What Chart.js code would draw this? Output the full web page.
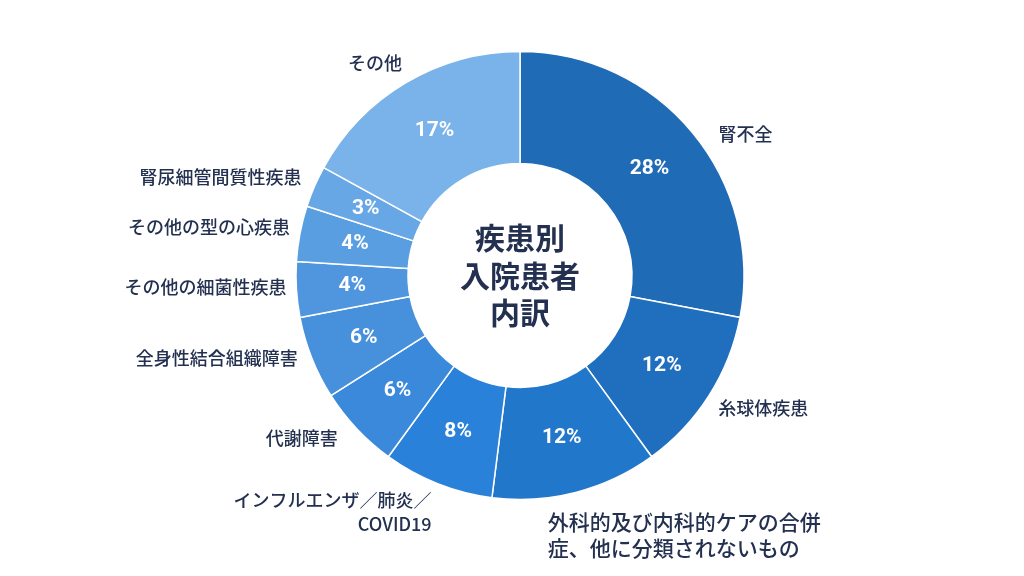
<!DOCTYPE html>
<html><head><meta charset="utf-8">
<script src="https://cdn.jsdelivr.net/npm/chart.js@4"></script>
<style>html,body{margin:0;padding:0;background:#fff;}#wrap{width:1024px;height:576px;position:relative;}</style>
</head><body><div id="wrap"><canvas id="c" width="1024" height="576"></canvas></div>
<script>
const categories = [
  ["腎不全"],
  ["糸球体疾患"],
  ["外科的及び内科的ケアの合併", "症、他に分類されないもの"],
  ["インフルエンザ／肺炎／", "COVID19"],
  ["代謝障害"],
  ["全身性結合組織障害"],
  ["その他の細菌性疾患"],
  ["その他の型の心疾患"],
  ["腎尿細管間質性疾患"],
  ["その他"]
];
const values = [28, 12, 12, 8, 6, 6, 4, 4, 3, 17];
const centerTitle = ["疾患別", "入院患者", "内訳"];
const colors = ["#1f6bb6", "#206fbf", "#2177ca", "#2a81d9", "#3a89db", "#4690dc", "#4f96de", "#5a9ee2", "#68a7e5", "#7ab3e9"];
// label placement relative to each slice's outer mid point: [dx, dy, align, fontSize]
const labelLayout = [
  [26, 1, "left", 18],
  [9, 13, "left", 18],
  [-28, 30, "left", 21],
  [-6, 16, "right", 18],
  [-19, 9, "right", 18],
  [-14, 0, "right", 18],
  [-10, -2, "right", 18],
  [-10, -6, "right", 18],
  [-13, -9, "right", 18],
  [-4, -20, "right", 18]
];

const textColor = "#233050";
const jp = '"Noto Sans CJK JP", "Noto Sans", sans-serif';

const labelPlugin = {
  id: "labels",
  afterDatasetsDraw(chart) {
    const ctx = chart.ctx;
    const meta = chart.getDatasetMeta(0);
    ctx.save();
    meta.data.forEach((arc, i) => {
      const p = arc.getProps(["x", "y", "startAngle", "endAngle", "innerRadius", "outerRadius"], true);
      const mid = (p.startAngle + p.endAngle) / 2;
      const rm = (p.innerRadius + p.outerRadius) / 2;
      // percent
      ctx.fillStyle = "#ffffff";
      ctx.font = 'bold 21px Roboto, "Liberation Sans", sans-serif';
      ctx.textAlign = "center";
      ctx.textBaseline = "middle";
      ctx.fillText(values[i] + "%", p.x + Math.cos(mid) * rm, p.y + Math.sin(mid) * rm);
      // category label
      const [dx, dy, align, fs] = labelLayout[i];
      const ax = p.x + Math.cos(mid) * p.outerRadius + dx;
      const ay = p.y + Math.sin(mid) * p.outerRadius + dy;
      ctx.fillStyle = textColor;
      ctx.font = '500 ' + fs + 'px ' + jp;
      ctx.textAlign = align;
      const lh = fs === 21 ? 26 : 24;
      categories[i].forEach((line, k) => ctx.fillText(line, ax, ay + k * lh));
    });
    // center title
    const a0 = meta.data[0];
    ctx.fillStyle = textColor;
    ctx.font = 'bold 30px ' + jp;
    ctx.textAlign = "center";
    ctx.textBaseline = "middle";
    const n = centerTitle.length;
    centerTitle.forEach((t, k) => ctx.fillText(t, a0.x, a0.y + (k - (n - 1) / 2) * 37.5));
    ctx.restore();
  }
};

new Chart(document.getElementById("c"), {
  type: "doughnut",
  data: {
    labels: categories.map(c => c.join("")),
    datasets: [{
      data: values,
      backgroundColor: colors,
      borderColor: "#ffffff",
      borderWidth: 1.5,
      hoverOffset: 0
    }]
  },
  options: {
    responsive: false,
    animation: false,
    events: [],
    radius: 224,
    cutout: "50%",
    layout: { padding: { left: 16, right: 0, top: 0, bottom: 25 } },
    plugins: { legend: { display: false }, tooltip: { enabled: false } }
  },
  plugins: [labelPlugin]
});
</script>
</body></html>
